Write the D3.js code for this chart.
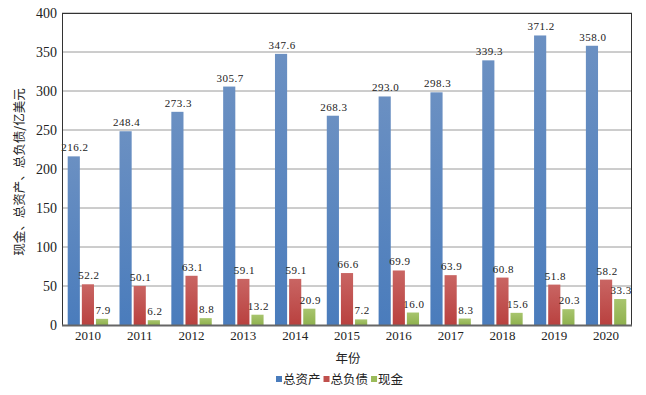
<!DOCTYPE html>
<html>
<head>
<meta charset="utf-8">
<script src="https://cdn.jsdelivr.net/npm/d3@7"></script>
<style>
  body { margin: 0; background: #fff; }
  svg text { fill: #222; }
</style>
</head>
<body>
<div id="chart"></div>
<script>
// 年份
var years = ["2010", "2011", "2012", "2013", "2014", "2015", "2016", "2017", "2018", "2019", "2020"];
// 总资产 / 总负债 / 现金 (亿美元)
var totalAssets = [216.2, 248.4, 273.3, 305.7, 347.6, 268.3, 293.0, 298.3, 339.3, 371.2, 358.0];
var totalDebt = [52.2, 50.1, 63.1, 59.1, 59.1, 66.6, 69.9, 63.9, 60.8, 51.8, 58.2];
var cash = [7.9, 6.2, 8.8, 13.2, 20.9, 7.2, 16.0, 8.3, 15.6, 20.3, 33.3];
var seriesNames = ["总资产", "总负债", "现金"];
var yTicks = [0, 50, 100, 150, 200, 250, 300, 350, 400];

var W = 646, H = 395;
var m = {left: 62, right: 14, top: 13, bottom: 70};
var seriesCols = [
    {top: "#6b90c2", bottom: "#4a7cbc", key: "#4a7cbc"},
    {top: "#c96563", bottom: "#b9413f", key: "#c0504d"},
    {top: "#a8c56e", bottom: "#8fb14e", key: "#9bbb59"}
];
var allSeries = [totalAssets, totalDebt, cash];

var svg = d3.select("#chart").append("svg")
    .attr("width", W)
    .attr("height", H);

// 渐变
var defs = svg.append("defs");
seriesCols.forEach(function (c, i) {
    var g = defs.append("linearGradient")
        .attr("id", "grad" + i)
        .attr("x1", 0).attr("y1", 0).attr("x2", 0).attr("y2", 1);
    g.append("stop").attr("offset", "0%").attr("stop-color", c.top);
    g.append("stop").attr("offset", "100%").attr("stop-color", c.bottom);
});

var x0 = d3.scaleBand()
    .domain(years)
    .range([m.left, W - m.right])
    .paddingInner(0.22)
    .paddingOuter(0.11);
var x1 = d3.scaleBand()
    .domain([0, 1, 2])
    .range([0, x0.bandwidth()])
    .paddingInner(0.14);
var y = d3.scaleLinear()
    .domain([0, 400])
    .range([H - m.bottom, m.top]);

// 网格线
svg.append("g")
    .selectAll("line")
    .data(yTicks.slice(1))
    .enter().append("line")
    .attr("x1", m.left).attr("x2", W - m.right)
    .attr("y1", function (d) { return y(d); })
    .attr("y2", function (d) { return y(d); })
    .attr("stroke", "#9a9a9a")
    .attr("stroke-width", 1);

// 柱子
allSeries.forEach(function (vals, si) {
    var g = svg.append("g");
    g.selectAll("rect")
        .data(vals)
        .enter().append("rect")
        .attr("x", function (d, i) { return x0(years[i]) + x1(si); })
        .attr("y", function (d) { return y(d); })
        .attr("width", x1.bandwidth())
        .attr("height", function (d) { return y(0) - y(d); })
        .attr("fill", "url(#grad" + si + ")");
    g.selectAll("text")
        .data(vals)
        .enter().append("text")
        .attr("x", function (d, i) { return x0(years[i]) + x1(si) + x1.bandwidth() / 2 + 1; })
        .attr("y", function (d) { return y(d) - 5; })
        .attr("text-anchor", "middle")
        .style("font-family", "'Liberation Serif', serif")
        .style("font-size", "11px")
        .style("letter-spacing", "0.5px")
        .text(function (d) { return d.toFixed(1); });
});

// 边框
svg.append("rect")
    .attr("x", m.left + 0.5).attr("y", m.top + 0.5)
    .attr("width", W - m.right - m.left - 1)
    .attr("height", y(0) - m.top)
    .attr("fill", "none")
    .attr("stroke", "#333")
    .attr("stroke-width", 1);
svg.append("line")
    .attr("x1", m.left).attr("x2", W - m.right)
    .attr("y1", y(0) + 0.5).attr("y2", y(0) + 0.5)
    .attr("stroke", "#666")
    .attr("stroke-width", 2);

// y轴
var yAxis = svg.append("g")
    .attr("transform", "translate(" + m.left + ",0)")
    .call(d3.axisLeft(y).tickValues(yTicks).tickSize(0).tickPadding(5));
yAxis.select(".domain").remove();
yAxis.selectAll("text")
    .style("font-family", "'Liberation Serif', serif")
    .style("font-size", "14px")
    .attr("fill", "#222");

// x轴
var xAxis = svg.append("g")
    .attr("transform", "translate(0," + y(0) + ")")
    .call(d3.axisBottom(x0).tickSize(0).tickPadding(6));
xAxis.select(".domain").remove();
xAxis.selectAll("text")
    .style("font-family", "'Liberation Serif', serif")
    .style("font-size", "13px")
    .attr("fill", "#222");

// 轴标题
svg.append("text")
    .attr("transform", "translate(24,172) rotate(-90)")
    .attr("text-anchor", "middle")
    .style("font-family", "'Noto Sans CJK SC', sans-serif")
    .style("font-size", "12.5px")
    .text("现金、总资产、总负债/亿美元");
svg.append("text")
    .attr("x", 348).attr("y", 363)
    .attr("text-anchor", "middle")
    .style("font-family", "'Noto Sans CJK SC', sans-serif")
    .style("font-size", "12.5px")
    .text("年份");

// 图例
var lg = svg.append("g").attr("transform", "translate(276,381)");
var lx = 0;
seriesNames.forEach(function (name, i) {
    lg.append("rect")
        .attr("x", lx).attr("y", -5)
        .attr("width", 6).attr("height", 6)
        .attr("fill", seriesCols[i].key);
    var t = lg.append("text")
        .attr("x", lx + 7).attr("y", 3)
        .style("font-family", "'Noto Sans CJK SC', sans-serif")
        .style("font-size", "12.5px")
        .text(name);
    lx += 7 + t.node().getComputedTextLength() + 3;
});
</script>
</body>
</html>
